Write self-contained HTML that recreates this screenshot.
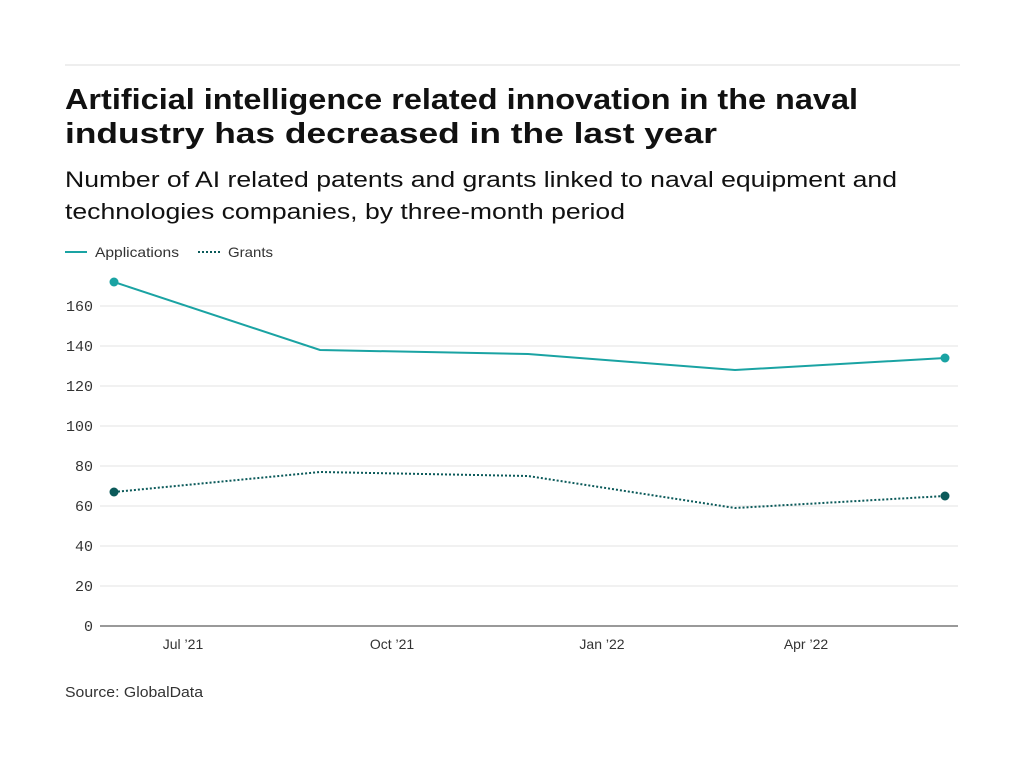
<!DOCTYPE html>
<html><head><meta charset="utf-8"><style>
body{margin:0;background:#fff;width:1024px;height:768px;overflow:hidden}
.s{font-family:"Liberation Sans",sans-serif}
.m{font-family:"Liberation Mono",monospace}
</style></head><body>
<svg width="1024" height="768" xmlns="http://www.w3.org/2000/svg">
<line x1="65" y1="65" x2="960" y2="65" stroke="#ddd" stroke-width="1"/>
<text class="s" x="65" y="109" font-size="29" font-weight="bold" fill="#111" textLength="793" lengthAdjust="spacingAndGlyphs">Artificial intelligence related innovation in the naval</text>
<text class="s" x="65" y="143" font-size="29" font-weight="bold" fill="#111" textLength="652" lengthAdjust="spacingAndGlyphs">industry has decreased in the last year</text>
<text class="s" x="65" y="187" font-size="22" fill="#111" textLength="832" lengthAdjust="spacingAndGlyphs">Number of AI related patents and grants linked to naval equipment and</text>
<text class="s" x="65" y="219" font-size="22" fill="#111" textLength="560" lengthAdjust="spacingAndGlyphs">technologies companies, by three-month period</text>
<line x1="65" y1="252" x2="87" y2="252" stroke="#1aa3a3" stroke-width="2"/>
<text class="s" x="95" y="257" font-size="14" fill="#333" textLength="84" lengthAdjust="spacingAndGlyphs">Applications</text>
<line x1="198" y1="252" x2="220" y2="252" stroke="#0b5a5a" stroke-width="2" stroke-dasharray="2,2"/>
<text class="s" x="228" y="257" font-size="14" fill="#333" textLength="45" lengthAdjust="spacingAndGlyphs">Grants</text>
<g stroke="#e3e3e3" stroke-width="1">
<line x1="100" y1="306" x2="958" y2="306"/><line x1="100" y1="346" x2="958" y2="346"/>
<line x1="100" y1="386" x2="958" y2="386"/><line x1="100" y1="426" x2="958" y2="426"/>
<line x1="100" y1="466" x2="958" y2="466"/><line x1="100" y1="506" x2="958" y2="506"/>
<line x1="100" y1="546" x2="958" y2="546"/><line x1="100" y1="586" x2="958" y2="586"/>
</g>
<line x1="100" y1="626" x2="958" y2="626" stroke="#333" stroke-width="1"/>
<g font-size="15" fill="#333" text-anchor="end">
<text class="m" x="93" y="311">160</text><text class="m" x="93" y="351">140</text><text class="m" x="93" y="391">120</text>
<text class="m" x="93" y="431">100</text><text class="m" x="93" y="471">80</text><text class="m" x="93" y="511">60</text>
<text class="m" x="93" y="551">40</text><text class="m" x="93" y="591">20</text><text class="m" x="93" y="631">0</text>
</g>
<g font-size="14" fill="#333" text-anchor="middle">
<text class="s" x="183" y="649">Jul ’21</text><text class="s" x="392" y="649">Oct ’21</text>
<text class="s" x="602" y="649">Jan ’22</text><text class="s" x="806" y="649">Apr ’22</text>
</g>
<polyline points="114,282 320,350 528,354 735,370 945,358" fill="none" stroke="#1aa3a3" stroke-width="2"/>
<polyline points="114,492 320,472 528,476 735,508 945,496" fill="none" stroke="#0b5a5a" stroke-width="2" stroke-dasharray="2,2"/>
<circle cx="114" cy="282" r="4.5" fill="#1aa3a3"/><circle cx="945" cy="358" r="4.5" fill="#1aa3a3"/>
<circle cx="114" cy="492" r="4.5" fill="#0b5a5a"/><circle cx="945" cy="496" r="4.5" fill="#0b5a5a"/>
<text class="s" x="65" y="697" font-size="15" fill="#333" textLength="138" lengthAdjust="spacingAndGlyphs">Source: GlobalData</text>
</svg>
</body></html>
